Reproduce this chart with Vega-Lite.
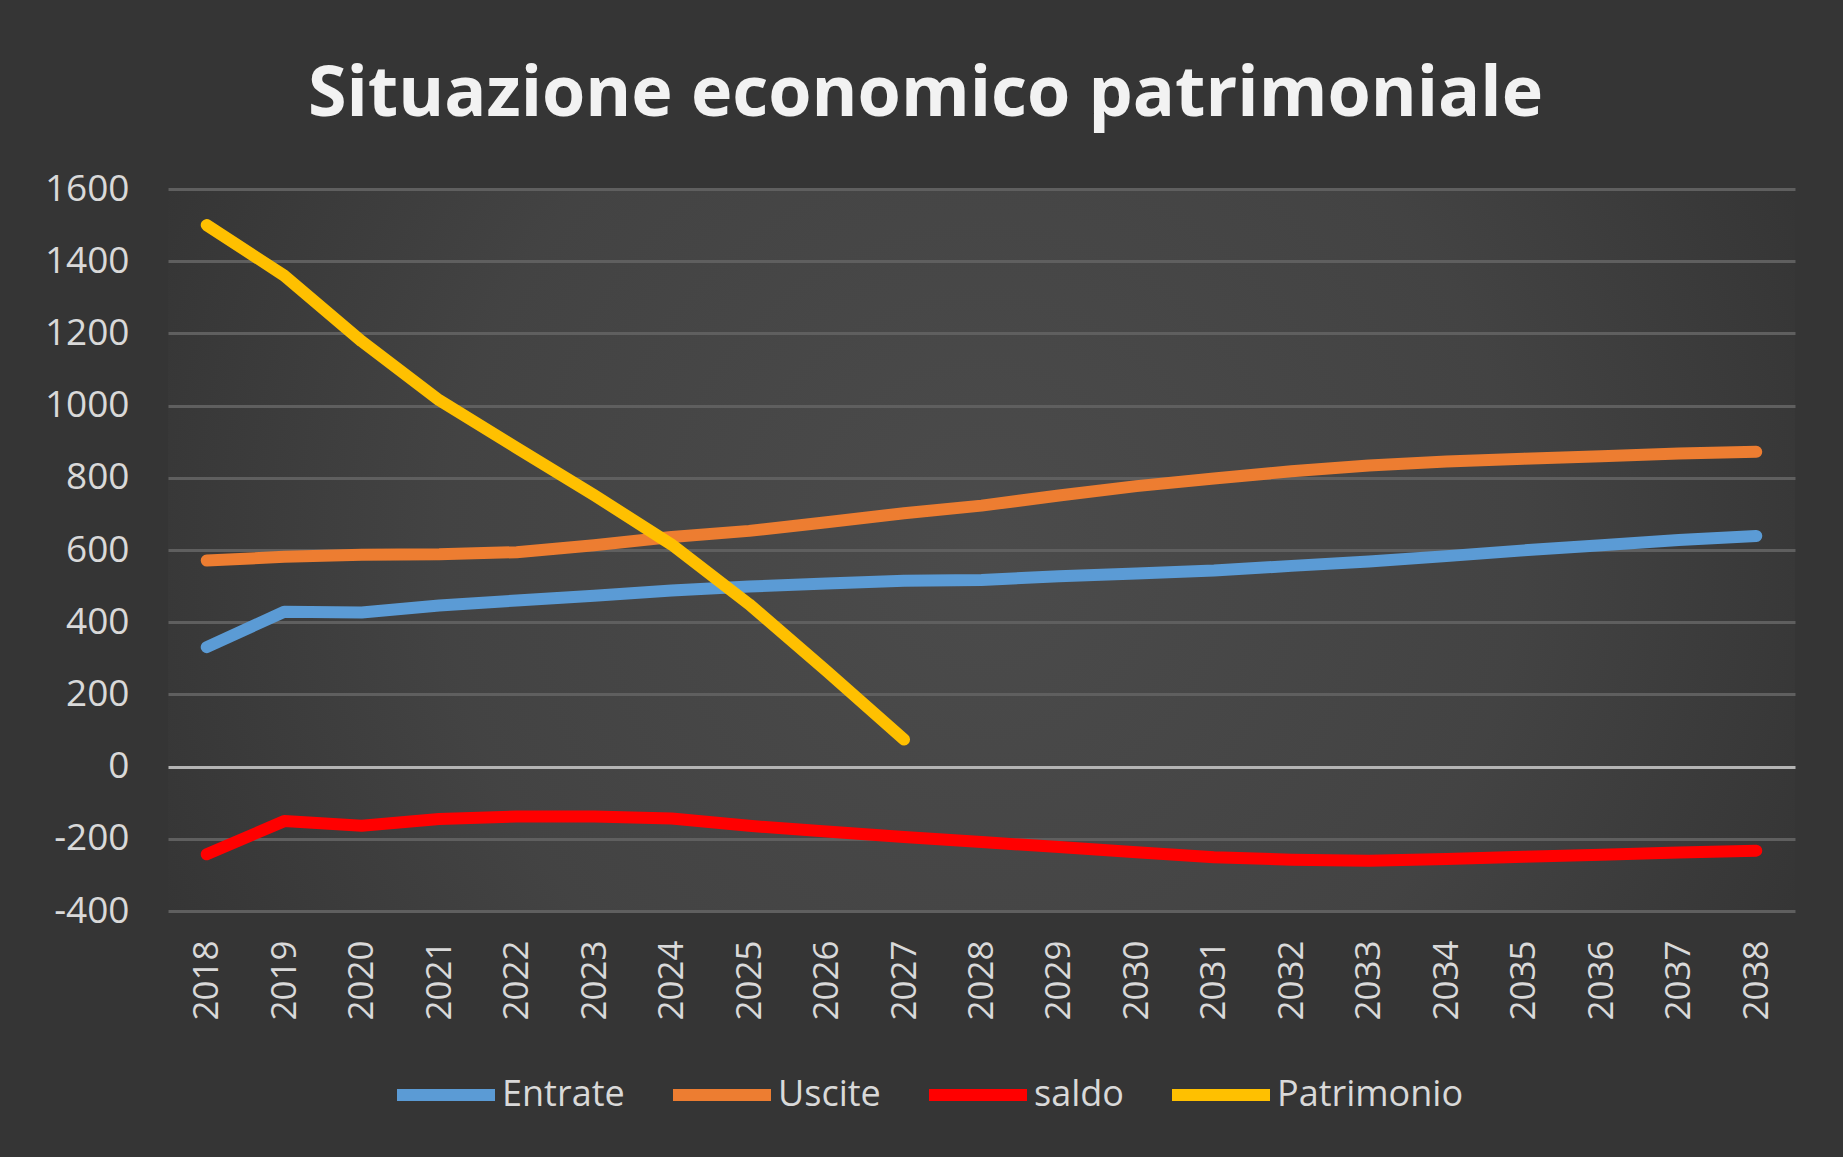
{
  "$schema": "https://vega.github.io/schema/vega-lite/v6.json",
  "width": 1627,
  "height": 722,
  "autosize": {"type": "none"},
  "padding": {"left": 168, "top": 189, "right": 48, "bottom": 246},
  "background": "#353535",
  "title": {
    "text": "Situazione economico patrimoniale",
    "font": "Open Sans",
    "fontSize": 70,
    "fontWeight": "bold",
    "color": "#f2f2f2",
    "anchor": "middle",
    "frame": "group",
    "dx": -56,
    "baseline": "alphabetic",
    "offset": -16
  },
  "config": {
    "view": {
      "stroke": null,
      "fill": {
        "gradient": "radial",
        "x1": 0.5, "y1": 0.5, "r1": 0,
        "x2": 0.5, "y2": 0.5, "r2": 0.55,
        "stops": [
          {"offset": 0, "color": "#4b4b4b"},
          {"offset": 0.6, "color": "#434343"},
          {"offset": 1, "color": "#353535"}
        ]
      }
    },
    "axis": {
      "labelFont": "Open Sans",
      "labelColor": "#d9d9d9",
      "labelFontSize": 37,
      "domain": false,
      "ticks": false,
      "tickSize": 0,
      "title": null
    },
    "legend": {
      "labelFont": "Open Sans",
      "labelColor": "#d9d9d9",
      "labelFontSize": 36,
      "labelLimit": 0
    }
  },
  "data": {
    "values": [
      {"year": "2018", "serie": "Entrate", "value": 331},
      {"year": "2019", "serie": "Entrate", "value": 429},
      {"year": "2020", "serie": "Entrate", "value": 427},
      {"year": "2021", "serie": "Entrate", "value": 446},
      {"year": "2022", "serie": "Entrate", "value": 460},
      {"year": "2023", "serie": "Entrate", "value": 473},
      {"year": "2024", "serie": "Entrate", "value": 488},
      {"year": "2025", "serie": "Entrate", "value": 499},
      {"year": "2026", "serie": "Entrate", "value": 507},
      {"year": "2027", "serie": "Entrate", "value": 515},
      {"year": "2028", "serie": "Entrate", "value": 517},
      {"year": "2029", "serie": "Entrate", "value": 527},
      {"year": "2030", "serie": "Entrate", "value": 535},
      {"year": "2031", "serie": "Entrate", "value": 543},
      {"year": "2032", "serie": "Entrate", "value": 556},
      {"year": "2033", "serie": "Entrate", "value": 568},
      {"year": "2034", "serie": "Entrate", "value": 583},
      {"year": "2035", "serie": "Entrate", "value": 599},
      {"year": "2036", "serie": "Entrate", "value": 613},
      {"year": "2037", "serie": "Entrate", "value": 628},
      {"year": "2038", "serie": "Entrate", "value": 639},
      {"year": "2018", "serie": "Uscite", "value": 571},
      {"year": "2019", "serie": "Uscite", "value": 581},
      {"year": "2020", "serie": "Uscite", "value": 587},
      {"year": "2021", "serie": "Uscite", "value": 588},
      {"year": "2022", "serie": "Uscite", "value": 594},
      {"year": "2023", "serie": "Uscite", "value": 613},
      {"year": "2024", "serie": "Uscite", "value": 636},
      {"year": "2025", "serie": "Uscite", "value": 653},
      {"year": "2026", "serie": "Uscite", "value": 677},
      {"year": "2027", "serie": "Uscite", "value": 702},
      {"year": "2028", "serie": "Uscite", "value": 723},
      {"year": "2029", "serie": "Uscite", "value": 751},
      {"year": "2030", "serie": "Uscite", "value": 777},
      {"year": "2031", "serie": "Uscite", "value": 798},
      {"year": "2032", "serie": "Uscite", "value": 818},
      {"year": "2033", "serie": "Uscite", "value": 834},
      {"year": "2034", "serie": "Uscite", "value": 845},
      {"year": "2035", "serie": "Uscite", "value": 853},
      {"year": "2036", "serie": "Uscite", "value": 860},
      {"year": "2037", "serie": "Uscite", "value": 867},
      {"year": "2038", "serie": "Uscite", "value": 872},
      {"year": "2018", "serie": "saldo", "value": -243},
      {"year": "2019", "serie": "saldo", "value": -151},
      {"year": "2020", "serie": "saldo", "value": -164},
      {"year": "2021", "serie": "saldo", "value": -145},
      {"year": "2022", "serie": "saldo", "value": -138},
      {"year": "2023", "serie": "saldo", "value": -138},
      {"year": "2024", "serie": "saldo", "value": -144},
      {"year": "2025", "serie": "saldo", "value": -164},
      {"year": "2026", "serie": "saldo", "value": -180},
      {"year": "2027", "serie": "saldo", "value": -195},
      {"year": "2028", "serie": "saldo", "value": -209},
      {"year": "2029", "serie": "saldo", "value": -223},
      {"year": "2030", "serie": "saldo", "value": -237},
      {"year": "2031", "serie": "saldo", "value": -251},
      {"year": "2032", "serie": "saldo", "value": -258},
      {"year": "2033", "serie": "saldo", "value": -261},
      {"year": "2034", "serie": "saldo", "value": -256},
      {"year": "2035", "serie": "saldo", "value": -250},
      {"year": "2036", "serie": "saldo", "value": -244},
      {"year": "2037", "serie": "saldo", "value": -238},
      {"year": "2038", "serie": "saldo", "value": -233},
      {"year": "2018", "serie": "Patrimonio", "value": 1500},
      {"year": "2019", "serie": "Patrimonio", "value": 1360},
      {"year": "2020", "serie": "Patrimonio", "value": 1178},
      {"year": "2021", "serie": "Patrimonio", "value": 1015},
      {"year": "2022", "serie": "Patrimonio", "value": 883},
      {"year": "2023", "serie": "Patrimonio", "value": 752},
      {"year": "2024", "serie": "Patrimonio", "value": 615},
      {"year": "2025", "serie": "Patrimonio", "value": 450},
      {"year": "2026", "serie": "Patrimonio", "value": 265},
      {"year": "2027", "serie": "Patrimonio", "value": 75}
    ]
  },
  "mark": {
    "type": "line",
    "strokeWidth": 12,
    "strokeCap": "round",
    "strokeJoin": "round",
    "interpolate": "linear"
  },
  "encoding": {
    "x": {
      "field": "year",
      "type": "ordinal",
      "scale": {"type": "point", "padding": 0.5},
      "axis": {
        "labelAngle": -90,
        "labelPadding": 29,
        "labelFontSize": 35,
        "grid": false
      }
    },
    "y": {
      "field": "value",
      "type": "quantitative",
      "scale": {"domain": [-400, 1600], "nice": false, "zero": false},
      "axis": {
        "values": [-400, -200, 0, 200, 400, 600, 800, 1000, 1200, 1400, 1600],
        "labelExpr": "datum.value + ''",
        "labelPadding": 39,
        "grid": true,
        "gridColor": {"condition": {"test": "datum.value === 0", "value": "#b4b4b4"}, "value": "#5f5f5f"},
        "gridWidth": 3
      }
    },
    "color": {
      "field": "serie",
      "type": "nominal",
      "scale": {
        "domain": ["Entrate", "Uscite", "saldo", "Patrimonio"],
        "range": ["#5b9bd5", "#ed7d31", "#ff0000", "#ffc000"]
      },
      "legend": {
        "title": null,
        "orient": "none",
        "direction": "horizontal",
        "legendX": 223,
        "legendY": 851,
        "padding": 0,
        "symbolType": "stroke",
        "symbolSize": 9604,
        "symbolStrokeWidth": 12,
        "labelOffset": 1,
        "columnPadding": 24
      }
    }
  }
}
